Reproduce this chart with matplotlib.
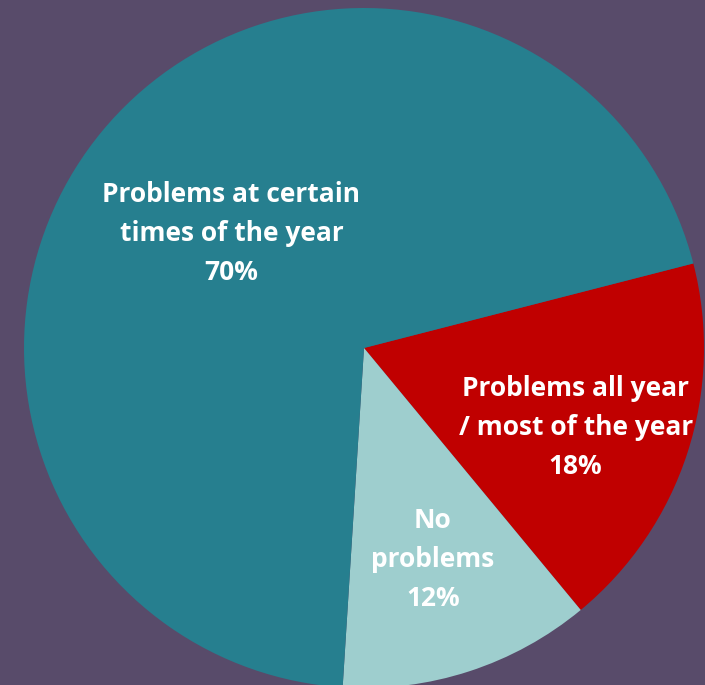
import numpy as np
import matplotlib.pyplot as plt

categories = ['Problems all year\n/ most of the year', 'No\nproblems',
              'Problems at certain\ntimes of the year']
shares = [18, 12, 70]
colors = ['#C00000', '#9ECECE', '#267F8F']
label_r = [0.665, 0.655, 0.515]
label_shift = [-2.6, 0.0, -1.2]  # degrees, nudge of label off the wedge middle

bg = '#584B6A'
plt.rcParams['font.family'] = ['Open Sans', 'DejaVu Sans']

fig = plt.figure(figsize=(7.05, 6.85), dpi=100, facecolor=bg)
ax = fig.add_axes([0, 0, 1, 1])
ax.set_facecolor(bg)

R = 340
wedges, _ = ax.pie(shares, colors=colors, startangle=14.4, counterclock=False,
                   radius=R, center=(0, 0), wedgeprops=dict(linewidth=0))

for w, cat, v, r, s in zip(wedges, categories, shares, label_r, label_shift):
    ang = np.deg2rad((w.theta1 + w.theta2) / 2 + s)
    ax.text(r * R * np.cos(ang), r * R * np.sin(ang), f'{cat}\n{v}%',
            ha='center', va='center', color='white', fontsize=19,
            fontweight='bold', linespacing=1.58)

ax.set_xlim(-364, 705 - 364)
ax.set_ylim(-(685 - 348), 348)
ax.set_aspect('equal')
ax.axis('off')

fig.savefig('out.png', dpi=100, facecolor=bg)
